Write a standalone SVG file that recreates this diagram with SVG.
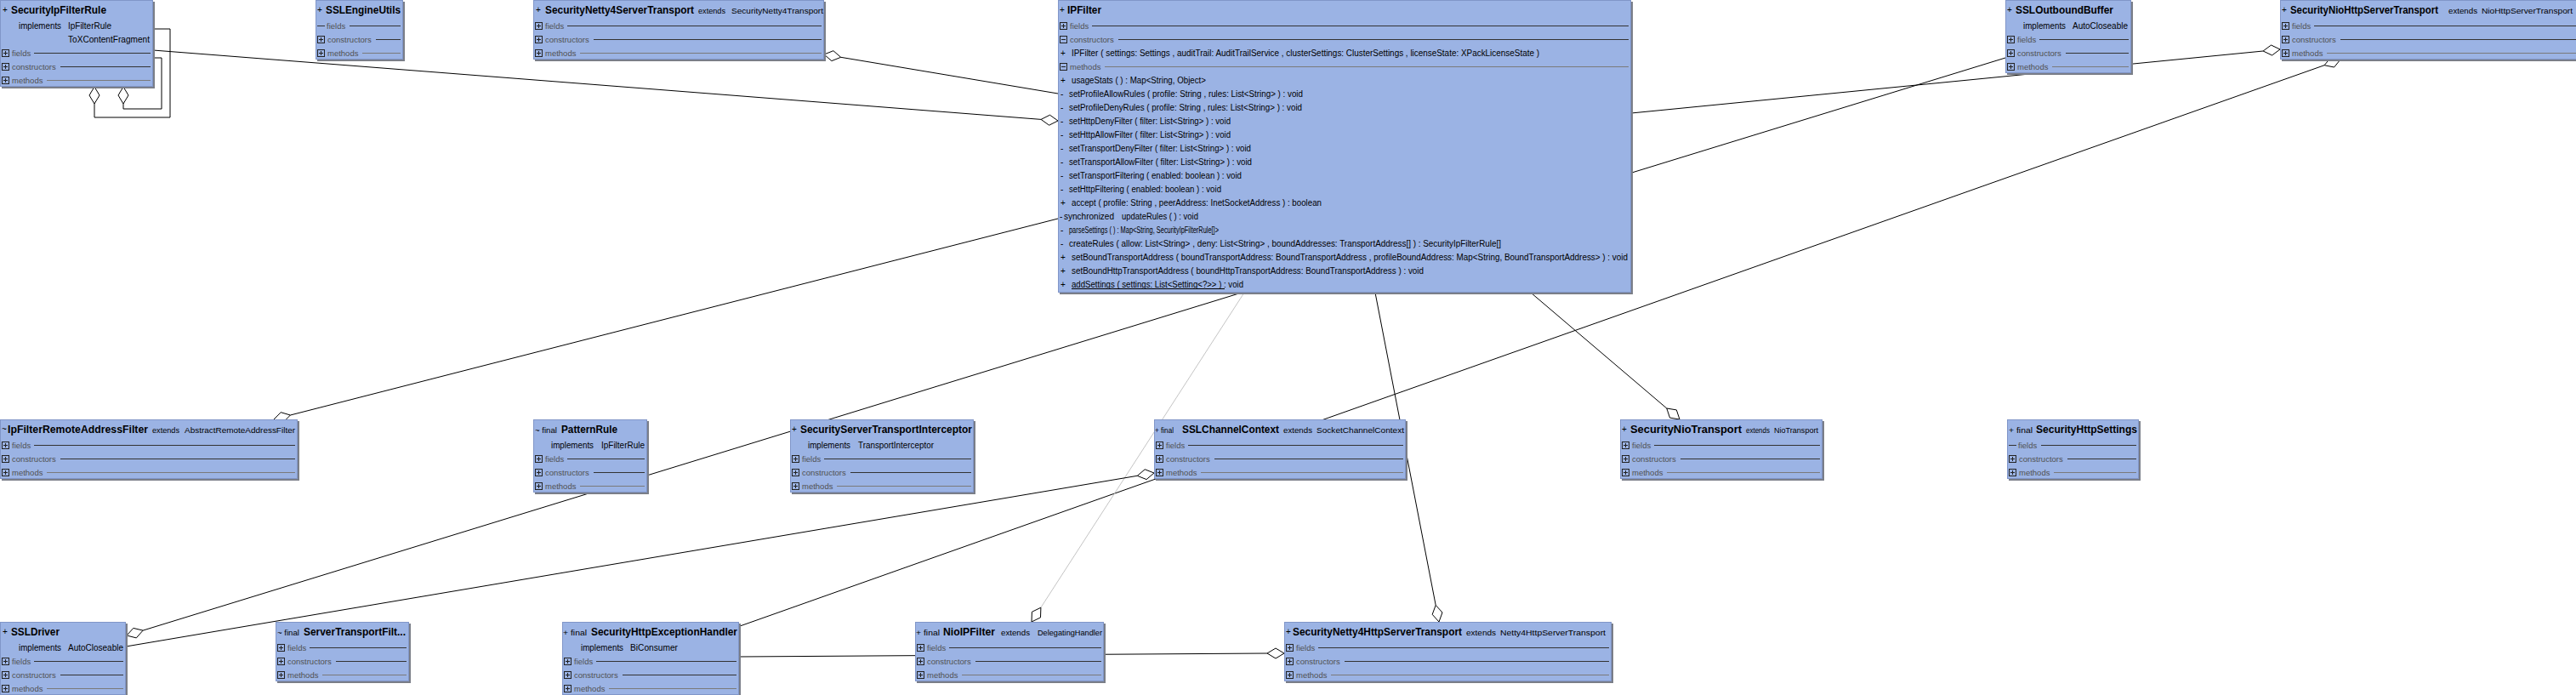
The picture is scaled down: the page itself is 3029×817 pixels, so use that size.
<svg xmlns="http://www.w3.org/2000/svg" width="3029" height="817" viewBox="0 0 3029 817">
<style>
text{font-family:"Liberation Sans",Arial,sans-serif}
.t{font-size:12px;font-weight:bold;fill:#000}
.p{font-size:10px;fill:#000}
.k{font-size:9px;fill:#000}
.i{font-size:10px;fill:#000}
.sec{font-size:9.5px;fill:#505050}
.m{font-size:10px;fill:#000}
.b{fill:#9BB3E4;stroke:#8196C8;stroke-width:1}
.sh{fill:#7a7e88}
.l1{stroke:#333;stroke-width:1}
.l2{stroke:#7a7a7a;stroke-width:1}
.c{stroke:#000;stroke-width:1;fill:none}
.d{fill:#fff;stroke:#000;stroke-width:1}
.g{stroke:#c4c4c4;stroke-width:1}
</style>
<defs>
<g id="ip"><rect x="0.5" y="0.5" width="8" height="8" fill="#9BB3E4" stroke="#222"/><path d="M2 4.5h5M4.5 2v5" stroke="#222" fill="none"/></g>
<g id="im"><rect x="0.5" y="0.5" width="8" height="8" fill="#9BB3E4" stroke="#222"/><path d="M2 4.5h5" stroke="#222" fill="none"/></g>
</defs>
<rect width="3029" height="817" fill="#fff"/>

<g id="connectors" class="c">
<polyline points="180,34 200,34 200,138 111,138 111,122"/>
<polygon class="d" points="111,102 117,112 111,122 105,112"/>
<polyline points="180,68 190,68 190,128 145,128 145,122"/>
<polygon class="d" points="145,102 151,112 145,122 139,112"/>
<line x1="180" y1="59" x2="1224.1" y2="140.4"/>
<polygon class="d" points="1244,142 1234.5,135.2 1224.1,140.4 1233.6,147.2"/>
<line x1="988.7" y1="67.3" x2="1244" y2="110"/>
<polygon class="d" points="969,64 977.9,71.6 988.7,67.3 979.9,59.7"/>
<line x1="341.4" y1="488" x2="1244" y2="257"/>
<polygon class="d" points="322,493 333.2,496.3 341.4,488 330.2,484.7"/>
<line x1="2661.1" y1="60" x2="1918" y2="133"/>
<polygon class="d" points="2681,58 2670.5,53 2661.1,60 2671.6,65"/>
<line x1="2733.1" y1="76.7" x2="870" y2="736"/>
<polygon class="d" points="2752,70 2740.6,67.7 2733.1,76.7 2744.6,79"/>
<line x1="1959.8" y1="480" x2="1800" y2="344"/>
<polygon class="d" points="1975,493 1971.3,481.9 1959.8,480 1963.5,491.1"/>
<line class="g" x1="1223.9" y1="714.2" x2="1463" y2="344"/>
<polygon class="d" points="1213,731 1223.5,725.9 1223.9,714.2 1213.4,719.3"/>
<line x1="1688.2" y1="711.4" x2="1617" y2="344"/>
<polygon class="d" points="1692,731 1696,720 1688.2,711.4 1684.2,722.3"/>
<line x1="1490" y1="768" x2="869" y2="772"/>
<polygon class="d" points="1510,768 1500,762 1490,768 1500,774"/>
<line x1="1337.3" y1="559.3" x2="148" y2="760"/>
<polygon class="d" points="1357,556 1346.2,551.8 1337.3,559.3 1348.1,563.6"/>
<line x1="168.1" y1="741.1" x2="2358" y2="68"/>
<polygon class="d" points="149,747 160.3,749.9 168.1,741.1 156.8,738.4"/>
</g>

<g id="SecurityIpFilterRule">
<rect class="sh" x="2" y="2" width="180" height="102"/>
<rect class="b" x="0.5" y="0.5" width="179" height="101"/>
<text class="p" x="3" y="15">+</text>
<text class="t" x="13" y="15.5" textLength="112" lengthAdjust="spacingAndGlyphs">SecurityIpFilterRule</text>
<text class="i" x="22" y="33.5" textLength="50" lengthAdjust="spacingAndGlyphs">implements</text>
<text class="i" x="80" y="33.5" textLength="51" lengthAdjust="spacingAndGlyphs">IpFilterRule</text>
<text class="i" x="80" y="49.5" textLength="96" lengthAdjust="spacingAndGlyphs">ToXContentFragment</text>
<use href="#ip" x="2" y="58"/><text class="sec" x="14" y="65.5">fields</text><line class="l1" x1="40" y1="62.5" x2="177" y2="62.5"/>
<use href="#ip" x="2" y="74"/><text class="sec" x="14" y="81.5">constructors</text><line class="l1" x1="71" y1="78.5" x2="177" y2="78.5"/>
<use href="#ip" x="2" y="90"/><text class="sec" x="14" y="97.5">methods</text><line class="l2" x1="55" y1="94.5" x2="177" y2="94.5"/>
</g>

<g id="SSLEngineUtils">
<rect class="sh" x="373" y="2" width="103" height="70"/>
<rect class="b" x="371.5" y="0.5" width="102" height="69"/>
<text class="p" x="373" y="15">+</text>
<text class="t" x="383" y="15.5" textLength="88" lengthAdjust="spacingAndGlyphs">SSLEngineUtils</text>
<line class="l1" x1="373" y1="30.5" x2="382" y2="30.5"/><text class="sec" x="384" y="33.5">fields</text><line class="l1" x1="411" y1="30.5" x2="471" y2="30.5"/>
<use href="#ip" x="373" y="42"/><text class="sec" x="385" y="49.5">constructors</text><line class="l1" x1="442" y1="46.5" x2="471" y2="46.5"/>
<use href="#ip" x="373" y="58"/><text class="sec" x="385" y="65.5">methods</text><line class="l2" x1="426" y1="62.5" x2="471" y2="62.5"/>
</g>

<g id="SecurityNetty4ServerTransport">
<rect class="sh" x="629" y="2" width="342" height="70"/>
<rect class="b" x="627.5" y="0.5" width="341" height="69"/>
<text class="p" x="630" y="15">+</text>
<text class="t" x="641" y="15.5" textLength="175" lengthAdjust="spacingAndGlyphs">SecurityNetty4ServerTransport</text>
<text class="k" x="821" y="15.5" textLength="32" lengthAdjust="spacingAndGlyphs">extends</text>
<text class="k" x="860" y="15.5" textLength="108" lengthAdjust="spacingAndGlyphs">SecurityNetty4Transport</text>
<use href="#ip" x="629" y="26"/><text class="sec" x="641" y="33.5">fields</text><line class="l1" x1="667" y1="30.5" x2="966" y2="30.5"/>
<use href="#ip" x="629" y="42"/><text class="sec" x="641" y="49.5">constructors</text><line class="l1" x1="698" y1="46.5" x2="966" y2="46.5"/>
<use href="#ip" x="629" y="58"/><text class="sec" x="641" y="65.5">methods</text><line class="l2" x1="682" y1="62.5" x2="966" y2="62.5"/>
</g>

<g id="IPFilter">
<rect class="sh" x="1246" y="2" width="674" height="344"/>
<rect class="b" x="1244.5" y="0.5" width="673" height="343"/>
<text class="p" x="1246" y="15">+</text>
<text class="t" x="1255" y="15.5" textLength="40" lengthAdjust="spacingAndGlyphs">IPFilter</text>
<use href="#ip" x="1246" y="26"/><text class="sec" x="1258" y="33.5">fields</text><line class="l1" x1="1284" y1="30.5" x2="1915" y2="30.5"/>
<use href="#im" x="1246" y="42"/><text class="sec" x="1258" y="49.5">constructors</text><line class="l1" x1="1315" y1="46.5" x2="1915" y2="46.5"/>
<text class="m" x="1247" y="65.5">+</text><text class="m" x="1260" y="65.5" textLength="550" lengthAdjust="spacingAndGlyphs">IPFilter ( settings: Settings , auditTrail: AuditTrailService , clusterSettings: ClusterSettings , licenseState: XPackLicenseState )</text>
<use href="#im" x="1246" y="74"/><text class="sec" x="1258" y="81.5">methods</text><line class="l2" x1="1299" y1="78.5" x2="1915" y2="78.5"/>
<text class="m" x="1247" y="97.5">+</text><text class="m" x="1260" y="97.5" textLength="158" lengthAdjust="spacingAndGlyphs">usageStats ( ) : Map&lt;String, Object&gt;</text>
<text class="m" x="1247" y="113.5">-</text><text class="m" x="1257" y="113.5" textLength="275" lengthAdjust="spacingAndGlyphs">setProfileAllowRules ( profile: String , rules: List&lt;String&gt; ) : void</text>
<text class="m" x="1247" y="129.5">-</text><text class="m" x="1257" y="129.5" textLength="274" lengthAdjust="spacingAndGlyphs">setProfileDenyRules ( profile: String , rules: List&lt;String&gt; ) : void</text>
<text class="m" x="1247" y="145.5">-</text><text class="m" x="1257" y="145.5" textLength="190" lengthAdjust="spacingAndGlyphs">setHttpDenyFilter ( filter: List&lt;String&gt; ) : void</text>
<text class="m" x="1247" y="161.5">-</text><text class="m" x="1257" y="161.5" textLength="190" lengthAdjust="spacingAndGlyphs">setHttpAllowFilter ( filter: List&lt;String&gt; ) : void</text>
<text class="m" x="1247" y="177.5">-</text><text class="m" x="1257" y="177.5" textLength="214" lengthAdjust="spacingAndGlyphs">setTransportDenyFilter ( filter: List&lt;String&gt; ) : void</text>
<text class="m" x="1247" y="193.5">-</text><text class="m" x="1257" y="193.5" textLength="215" lengthAdjust="spacingAndGlyphs">setTransportAllowFilter ( filter: List&lt;String&gt; ) : void</text>
<text class="m" x="1247" y="209.5">-</text><text class="m" x="1257" y="209.5" textLength="203" lengthAdjust="spacingAndGlyphs">setTransportFiltering ( enabled: boolean ) : void</text>
<text class="m" x="1247" y="225.5">-</text><text class="m" x="1257" y="225.5" textLength="179" lengthAdjust="spacingAndGlyphs">setHttpFiltering ( enabled: boolean ) : void</text>
<text class="m" x="1247" y="241.5">+</text><text class="m" x="1260" y="241.5" textLength="294" lengthAdjust="spacingAndGlyphs">accept ( profile: String , peerAddress: InetSocketAddress ) : boolean</text>
<text class="m" x="1246" y="257.5">-</text><text class="m" x="1251" y="257.5" textLength="59" lengthAdjust="spacingAndGlyphs">synchronized</text><text class="m" x="1319" y="257.5" textLength="90" lengthAdjust="spacingAndGlyphs">updateRules ( ) : void</text>
<text class="m" x="1247" y="273.5">-</text><text class="m" x="1257" y="273.5" textLength="176" lengthAdjust="spacingAndGlyphs">parseSettings ( ) : Map&lt;String, SecurityIpFilterRule[]&gt;</text>
<text class="m" x="1247" y="289.5">-</text><text class="m" x="1257" y="289.5" textLength="508" lengthAdjust="spacingAndGlyphs">createRules ( allow: List&lt;String&gt; , deny: List&lt;String&gt; , boundAddresses: TransportAddress[] ) : SecurityIpFilterRule[]</text>
<text class="m" x="1247" y="305.5">+</text><text class="m" x="1260" y="305.5" textLength="654" lengthAdjust="spacingAndGlyphs">setBoundTransportAddress ( boundTransportAddress: BoundTransportAddress , profileBoundAddress: Map&lt;String, BoundTransportAddress&gt; ) : void</text>
<text class="m" x="1247" y="321.5">+</text><text class="m" x="1260" y="321.5" textLength="414" lengthAdjust="spacingAndGlyphs">setBoundHttpTransportAddress ( boundHttpTransportAddress: BoundTransportAddress ) : void</text>
<text class="m" x="1247" y="337.5">+</text><text class="m" x="1260" y="337.5" textLength="202" lengthAdjust="spacingAndGlyphs">addSettings ( settings: List&lt;Setting&lt;?&gt;&gt; ) : void</text>
<line x1="1260" y1="339.5" x2="1440" y2="339.5" stroke="#000" stroke-width="1"/>
</g>

<g id="SSLOutboundBuffer">
<rect class="sh" x="2360" y="2" width="148" height="86"/>
<rect class="b" x="2358.5" y="0.5" width="147" height="85"/>
<text class="p" x="2360" y="15">+</text>
<text class="t" x="2370" y="15.5" textLength="115" lengthAdjust="spacingAndGlyphs">SSLOutboundBuffer</text>
<text class="i" x="2379" y="33.5" textLength="50" lengthAdjust="spacingAndGlyphs">implements</text>
<text class="i" x="2437" y="33.5" textLength="65" lengthAdjust="spacingAndGlyphs">AutoCloseable</text>
<use href="#ip" x="2360" y="42"/><text class="sec" x="2372" y="49.5">fields</text><line class="l1" x1="2398" y1="46.5" x2="2503" y2="46.5"/>
<use href="#ip" x="2360" y="58"/><text class="sec" x="2372" y="65.5">constructors</text><line class="l1" x1="2429" y1="62.5" x2="2503" y2="62.5"/>
<use href="#ip" x="2360" y="74"/><text class="sec" x="2372" y="81.5">methods</text><line class="l2" x1="2413" y1="78.5" x2="2503" y2="78.5"/>
</g>

<g id="SecurityNioHttpServerTransport">
<rect class="sh" x="2683" y="2" width="360" height="70"/>
<rect class="b" x="2681.5" y="0.5" width="359" height="69"/>
<text class="p" x="2683" y="15">+</text>
<text class="t" x="2693" y="15.5" textLength="174" lengthAdjust="spacingAndGlyphs">SecurityNioHttpServerTransport</text>
<text class="k" x="2879" y="15.5" textLength="34" lengthAdjust="spacingAndGlyphs">extends</text>
<text class="k" x="2918" y="15.5" textLength="107" lengthAdjust="spacingAndGlyphs">NioHttpServerTransport</text>
<use href="#ip" x="2683" y="26"/><text class="sec" x="2695" y="33.5">fields</text><line class="l1" x1="2721" y1="30.5" x2="3038" y2="30.5"/>
<use href="#ip" x="2683" y="42"/><text class="sec" x="2695" y="49.5">constructors</text><line class="l1" x1="2752" y1="46.5" x2="3038" y2="46.5"/>
<use href="#ip" x="2683" y="58"/><text class="sec" x="2695" y="65.5">methods</text><line class="l2" x1="2736" y1="62.5" x2="3038" y2="62.5"/>
</g>

<g id="IpFilterRemoteAddressFilter">
<rect class="sh" x="2" y="495" width="350" height="70"/>
<rect class="b" x="0.5" y="493.5" width="349" height="69"/>
<text class="p" x="2" y="508">~</text>
<text class="t" x="9" y="508.5" textLength="165" lengthAdjust="spacingAndGlyphs">IpFilterRemoteAddressFilter</text>
<text class="k" x="179" y="508.5" textLength="32" lengthAdjust="spacingAndGlyphs">extends</text>
<text class="k" x="217" y="508.5" textLength="130" lengthAdjust="spacingAndGlyphs">AbstractRemoteAddressFilter</text>
<use href="#ip" x="2" y="519"/><text class="sec" x="14" y="526.5">fields</text><line class="l1" x1="40" y1="523.5" x2="347" y2="523.5"/>
<use href="#ip" x="2" y="535"/><text class="sec" x="14" y="542.5">constructors</text><line class="l1" x1="71" y1="539.5" x2="347" y2="539.5"/>
<use href="#ip" x="2" y="551"/><text class="sec" x="14" y="558.5">methods</text><line class="l2" x1="55" y1="555.5" x2="347" y2="555.5"/>
</g>

<g id="PatternRule">
<rect class="sh" x="629" y="495" width="134" height="86"/>
<rect class="b" x="627.5" y="493.5" width="133" height="85"/>
<text class="k" x="629" y="508.5" textLength="26" lengthAdjust="spacingAndGlyphs">~ final</text>
<text class="t" x="660" y="508.5" textLength="66" lengthAdjust="spacingAndGlyphs">PatternRule</text>
<text class="i" x="648" y="526.5" textLength="50" lengthAdjust="spacingAndGlyphs">implements</text>
<text class="i" x="707" y="526.5" textLength="51" lengthAdjust="spacingAndGlyphs">IpFilterRule</text>
<use href="#ip" x="629" y="535"/><text class="sec" x="641" y="542.5">fields</text><line class="l1" x1="667" y1="539.5" x2="758" y2="539.5"/>
<use href="#ip" x="629" y="551"/><text class="sec" x="641" y="558.5">constructors</text><line class="l1" x1="698" y1="555.5" x2="758" y2="555.5"/>
<use href="#ip" x="629" y="567"/><text class="sec" x="641" y="574.5">methods</text><line class="l2" x1="682" y1="571.5" x2="758" y2="571.5"/>
</g>

<g id="SecurityServerTransportInterceptor">
<rect class="sh" x="931" y="495" width="216" height="86"/>
<rect class="b" x="929.5" y="493.5" width="215" height="85"/>
<text class="p" x="931" y="508">+</text>
<text class="t" x="941" y="508.5" textLength="202" lengthAdjust="spacingAndGlyphs">SecurityServerTransportInterceptor</text>
<text class="i" x="950" y="526.5" textLength="50" lengthAdjust="spacingAndGlyphs">implements</text>
<text class="i" x="1009" y="526.5" textLength="89" lengthAdjust="spacingAndGlyphs">TransportInterceptor</text>
<use href="#ip" x="931" y="535"/><text class="sec" x="943" y="542.5">fields</text><line class="l1" x1="969" y1="539.5" x2="1142" y2="539.5"/>
<use href="#ip" x="931" y="551"/><text class="sec" x="943" y="558.5">constructors</text><line class="l1" x1="1000" y1="555.5" x2="1142" y2="555.5"/>
<use href="#ip" x="931" y="567"/><text class="sec" x="943" y="574.5">methods</text><line class="l2" x1="984" y1="571.5" x2="1142" y2="571.5"/>
</g>

<g id="SSLChannelContext">
<rect class="sh" x="1359" y="495" width="296" height="70"/>
<rect class="b" x="1357.5" y="493.5" width="295" height="69"/>
<text class="k" x="1358" y="508.5" textLength="22" lengthAdjust="spacingAndGlyphs">+ final</text>
<text class="t" x="1390" y="508.5" textLength="114" lengthAdjust="spacingAndGlyphs">SSLChannelContext</text>
<text class="k" x="1509" y="508.5" textLength="34" lengthAdjust="spacingAndGlyphs">extends</text>
<text class="k" x="1548" y="508.5" textLength="103" lengthAdjust="spacingAndGlyphs">SocketChannelContext</text>
<use href="#ip" x="1359" y="519"/><text class="sec" x="1371" y="526.5">fields</text><line class="l1" x1="1397" y1="523.5" x2="1650" y2="523.5"/>
<use href="#ip" x="1359" y="535"/><text class="sec" x="1371" y="542.5">constructors</text><line class="l1" x1="1428" y1="539.5" x2="1650" y2="539.5"/>
<use href="#ip" x="1359" y="551"/><text class="sec" x="1371" y="558.5">methods</text><line class="l2" x1="1412" y1="555.5" x2="1650" y2="555.5"/>
</g>

<g id="SecurityNioTransport">
<rect class="sh" x="1907" y="495" width="238" height="70"/>
<rect class="b" x="1905.5" y="493.5" width="237" height="69"/>
<text class="p" x="1907" y="508">+</text>
<text class="t" x="1917" y="508.5" textLength="131" lengthAdjust="spacingAndGlyphs">SecurityNioTransport</text>
<text class="k" x="2053" y="508.5" textLength="28" lengthAdjust="spacingAndGlyphs">extends</text>
<text class="k" x="2086" y="508.5" textLength="52" lengthAdjust="spacingAndGlyphs">NioTransport</text>
<use href="#ip" x="1907" y="519"/><text class="sec" x="1919" y="526.5">fields</text><line class="l1" x1="1945" y1="523.5" x2="2140" y2="523.5"/>
<use href="#ip" x="1907" y="535"/><text class="sec" x="1919" y="542.5">constructors</text><line class="l1" x1="1976" y1="539.5" x2="2140" y2="539.5"/>
<use href="#ip" x="1907" y="551"/><text class="sec" x="1919" y="558.5">methods</text><line class="l2" x1="1960" y1="555.5" x2="2140" y2="555.5"/>
</g>

<g id="SecurityHttpSettings">
<rect class="sh" x="2362" y="495" width="155" height="70"/>
<rect class="b" x="2360.5" y="493.5" width="154" height="69"/>
<text class="k" x="2362" y="508.5" textLength="28" lengthAdjust="spacingAndGlyphs">+ final</text>
<text class="t" x="2394" y="508.5" textLength="119" lengthAdjust="spacingAndGlyphs">SecurityHttpSettings</text>
<line class="l1" x1="2362" y1="523.5" x2="2371" y2="523.5"/><text class="sec" x="2373" y="526.5">fields</text><line class="l1" x1="2400" y1="523.5" x2="2512" y2="523.5"/>
<use href="#ip" x="2362" y="535"/><text class="sec" x="2374" y="542.5">constructors</text><line class="l1" x1="2431" y1="539.5" x2="2512" y2="539.5"/>
<use href="#ip" x="2362" y="551"/><text class="sec" x="2374" y="558.5">methods</text><line class="l2" x1="2415" y1="555.5" x2="2512" y2="555.5"/>
</g>

<g id="SSLDriver">
<rect class="sh" x="2" y="733" width="148" height="86"/>
<rect class="b" x="0.5" y="731.5" width="147" height="85"/>
<text class="p" x="3" y="746">+</text>
<text class="t" x="13" y="746.5" textLength="57" lengthAdjust="spacingAndGlyphs">SSLDriver</text>
<text class="i" x="22" y="764.5" textLength="50" lengthAdjust="spacingAndGlyphs">implements</text>
<text class="i" x="80" y="764.5" textLength="65" lengthAdjust="spacingAndGlyphs">AutoCloseable</text>
<use href="#ip" x="2" y="773"/><text class="sec" x="14" y="780.5">fields</text><line class="l1" x1="40" y1="777.5" x2="145" y2="777.5"/>
<use href="#ip" x="2" y="789"/><text class="sec" x="14" y="796.5">constructors</text><line class="l1" x1="71" y1="793.5" x2="145" y2="793.5"/>
<use href="#ip" x="2" y="805"/><text class="sec" x="14" y="812.5">methods</text><line class="l2" x1="55" y1="809.5" x2="145" y2="809.5"/>
</g>

<g id="ServerTransportFilter">
<rect class="sh" x="326" y="733" width="157" height="70"/>
<rect class="b" x="324.5" y="731.5" width="156" height="69"/>
<text class="k" x="326" y="746.5" textLength="26" lengthAdjust="spacingAndGlyphs">~ final</text>
<text class="t" x="357" y="746.5" textLength="120" lengthAdjust="spacingAndGlyphs">ServerTransportFilt...</text>
<use href="#ip" x="326" y="757"/><text class="sec" x="338" y="764.5">fields</text><line class="l1" x1="364" y1="761.5" x2="478" y2="761.5"/>
<use href="#ip" x="326" y="773"/><text class="sec" x="338" y="780.5">constructors</text><line class="l1" x1="395" y1="777.5" x2="478" y2="777.5"/>
<use href="#ip" x="326" y="789"/><text class="sec" x="338" y="796.5">methods</text><line class="l2" x1="379" y1="793.5" x2="478" y2="793.5"/>
</g>

<g id="SecurityHttpExceptionHandler">
<rect class="sh" x="663" y="733" width="208" height="86"/>
<rect class="b" x="661.5" y="731.5" width="207" height="85"/>
<text class="k" x="662" y="746.5" textLength="28" lengthAdjust="spacingAndGlyphs">+ final</text>
<text class="t" x="695" y="746.5" textLength="172" lengthAdjust="spacingAndGlyphs">SecurityHttpExceptionHandler</text>
<text class="i" x="683" y="764.5" textLength="50" lengthAdjust="spacingAndGlyphs">implements</text>
<text class="i" x="741" y="764.5" textLength="56" lengthAdjust="spacingAndGlyphs">BiConsumer</text>
<use href="#ip" x="663" y="773"/><text class="sec" x="675" y="780.5">fields</text><line class="l1" x1="701" y1="777.5" x2="866" y2="777.5"/>
<use href="#ip" x="663" y="789"/><text class="sec" x="675" y="796.5">constructors</text><line class="l1" x1="732" y1="793.5" x2="866" y2="793.5"/>
<use href="#ip" x="663" y="805"/><text class="sec" x="675" y="812.5">methods</text><line class="l2" x1="716" y1="809.5" x2="866" y2="809.5"/>
</g>

<g id="NioIPFilter">
<rect class="sh" x="1078" y="733" width="222" height="70"/>
<rect class="b" x="1076.5" y="731.5" width="221" height="69"/>
<text class="k" x="1077" y="746.5" textLength="28" lengthAdjust="spacingAndGlyphs">+ final</text>
<text class="t" x="1109" y="746.5" textLength="61" lengthAdjust="spacingAndGlyphs">NioIPFilter</text>
<text class="k" x="1177" y="746.5" textLength="34" lengthAdjust="spacingAndGlyphs">extends</text>
<text class="k" x="1220" y="746.5" textLength="76" lengthAdjust="spacingAndGlyphs">DelegatingHandler</text>
<use href="#ip" x="1078" y="757"/><text class="sec" x="1090" y="764.5">fields</text><line class="l1" x1="1116" y1="761.5" x2="1295" y2="761.5"/>
<use href="#ip" x="1078" y="773"/><text class="sec" x="1090" y="780.5">constructors</text><line class="l1" x1="1147" y1="777.5" x2="1295" y2="777.5"/>
<use href="#ip" x="1078" y="789"/><text class="sec" x="1090" y="796.5">methods</text><line class="l2" x1="1131" y1="793.5" x2="1295" y2="793.5"/>
</g>

<g id="SecurityNetty4HttpServerTransport">
<rect class="sh" x="1512" y="733" width="385" height="70"/>
<rect class="b" x="1510.5" y="731.5" width="384" height="69"/>
<text class="p" x="1512" y="746">+</text>
<text class="t" x="1520" y="746.5" textLength="199" lengthAdjust="spacingAndGlyphs">SecurityNetty4HttpServerTransport</text>
<text class="k" x="1724" y="746.5" textLength="35" lengthAdjust="spacingAndGlyphs">extends</text>
<text class="k" x="1764" y="746.5" textLength="124" lengthAdjust="spacingAndGlyphs">Netty4HttpServerTransport</text>
<use href="#ip" x="1512" y="757"/><text class="sec" x="1524" y="764.5">fields</text><line class="l1" x1="1550" y1="761.5" x2="1892" y2="761.5"/>
<use href="#ip" x="1512" y="773"/><text class="sec" x="1524" y="780.5">constructors</text><line class="l1" x1="1581" y1="777.5" x2="1892" y2="777.5"/>
<use href="#ip" x="1512" y="789"/><text class="sec" x="1524" y="796.5">methods</text><line class="l2" x1="1565" y1="793.5" x2="1892" y2="793.5"/>
</g>
</svg>
